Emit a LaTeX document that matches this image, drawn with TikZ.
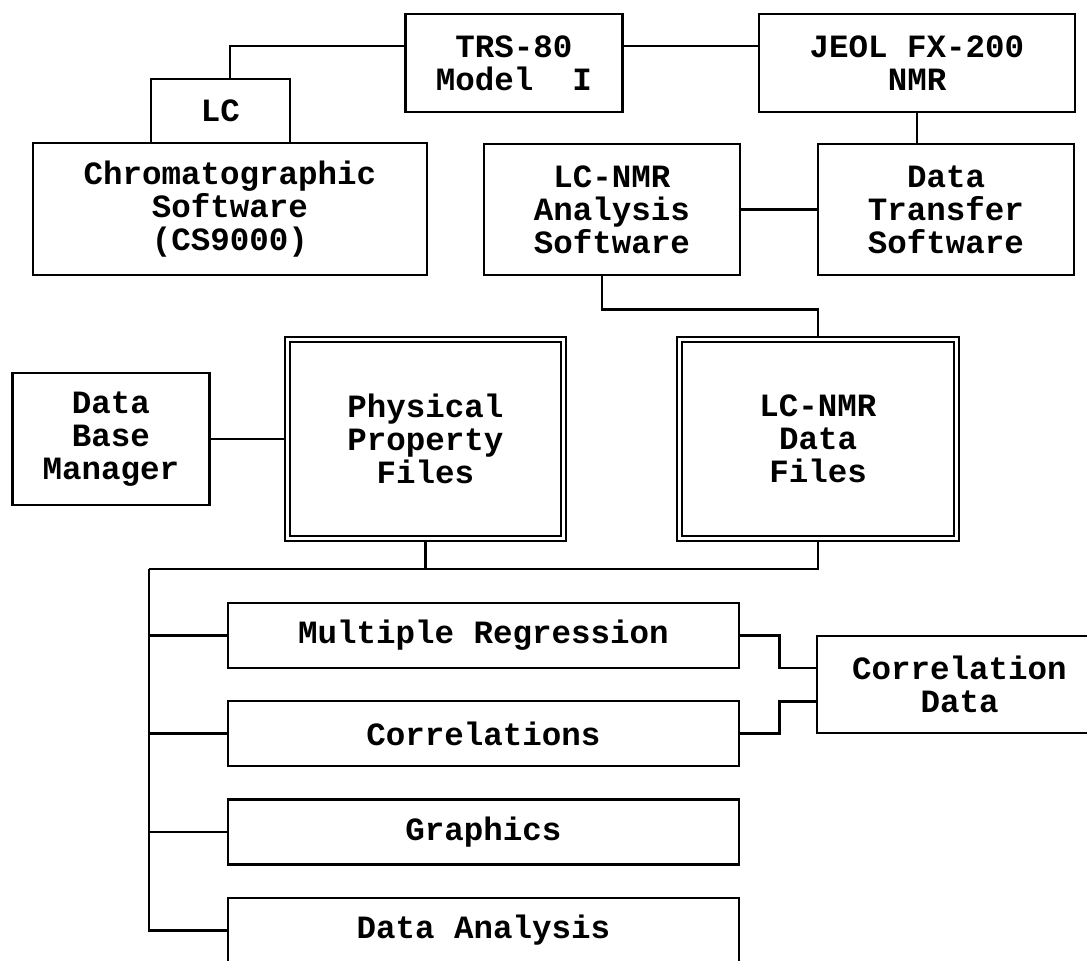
\documentclass[tikz,border=0pt]{standalone}
\usepackage{fontspec}
\setmainfont{Liberation Mono}
\usepackage{tikz}

\begin{document}
\begin{tikzpicture}[x=1pt,y=-1pt,
    box/.style={draw,line width=2.6pt,align=center,inner sep=0pt,
        font=\fontsize{32.5}{33}\selectfont\bfseries},
    files/.style={box,double,line width=2pt,double distance=3pt,outer sep=3.5pt},
    link/.style={line width=2.6pt}]
\useasboundingbox (0,0) rectangle (1087,961);

% hardware and software
\node[box,minimum width=217,minimum height=98] (trs) at (514,63) {TRS-80\\Model~~I};
\node[box,minimum width=316,minimum height=98] (jeol) at (917,63) {JEOL FX-200\\NMR};
\node[box,minimum width=139,minimum height=64] (lc) at (220.5,111) {LC};
\node[box,minimum width=394,minimum height=132] (chrom) at (230,209) {Chromatographic\\Software\\(CS9000)};
\node[box,minimum width=256,minimum height=131] (analysis) at (612,209.5) {LC-NMR\\Analysis\\Software};
\node[box,minimum width=256,minimum height=131] (transfer) at (946,209.5) {Data\\Transfer\\Software};

% files
\node[box,minimum width=197,minimum height=132] (dbm) at (111,439) {Data\\Base\\Manager};
\node[files,minimum width=276,minimum height=199] (ppf) at (425.5,439) {Physical\\Property\\Files};
\node[files,minimum width=276.5,minimum height=199] (lcf) at (818,439) {LC-NMR\\Data\\Files};

% programs
\node[box,minimum width=511,minimum height=65] (mr) at (483.5,635.5) {Multiple Regression};
\node[box,minimum width=511,minimum height=65] (corr) at (483.5,733.5) {Correlations};
\node[box,minimum width=511,minimum height=65] (graph) at (483.5,832) {Graphics};
\node[box,minimum width=511,minimum height=65] (da) at (483.5,930.5) {Data Analysis};
\node[box,minimum width=285,minimum height=97] (cd) at (959.5,684.5) {Correlation\\Data};

\coordinate (bus) at (149,569);

\draw[link] ([yshift=17pt]trs.west) -| ([xshift=9.5pt]lc.north);
\draw[link] ([yshift=17pt]trs.east) -- ([yshift=17pt]jeol.west);
\draw[link] (jeol.south) -- (jeol.south |- transfer.north);
\draw[link] (analysis.east) -- (transfer.west);
\draw[link] ([xshift=-10pt]analysis.south) -- ++(0,33) -| (lcf.north);
\draw[link] (dbm.east) -- (ppf.west);
\draw[link] (ppf.south) |- (bus);
\draw[link] (lcf.south) |- (bus);
\draw[link] (bus) |- (da.west);
\foreach \n in {mr,corr,graph}
    \draw[link] (bus |- \n.west) -- (\n.west);
\draw[link] (mr.east) -- ++(39,0) |- ([yshift=16.5pt]cd.west);
\draw[link] (corr.east) -- ++(39,0) |- ([yshift=-17pt]cd.west);

\end{tikzpicture}
\end{document}
